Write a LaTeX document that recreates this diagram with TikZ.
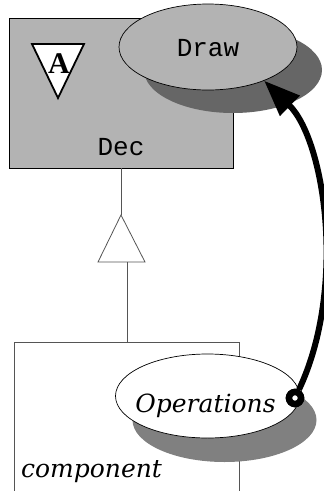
\documentclass[tikz,border=0pt]{standalone}
\usepackage{fontspec}
\setmainfont{Liberation Serif}
\setmonofont{Liberation Mono}
\newfontfamily\labelserif{DejaVu Serif}
\usetikzlibrary{arrows.meta,shapes.geometric,shadows}
\definecolor{boxgray}{HTML}{B3B3B3}
\definecolor{shadowdark}{HTML}{666666}
\definecolor{shadowmid}{HTML}{808080}
\definecolor{linegray}{HTML}{555555}
\tikzset{
  classbox/.style={draw=black, line width=0.8pt, fill=boxgray, anchor=north west, inner sep=0pt},
  openbox/.style={draw=linegray, line width=0.8pt, anchor=north west, inner sep=0pt},
  opellipse/.style={ellipse, draw=black, line width=0.7pt, inner sep=0pt},
  monotext/.style={font=\ttfamily\fontsize{26}{26}\selectfont, inner sep=0pt, anchor=base},
  ittext/.style={font=\labelserif\itshape\fontsize{25}{25}\selectfont, inner sep=0pt, anchor=base},
  inherit/.style={draw=linegray, line width=0.8pt},
  bigarrow/.style={line width=6pt, -{Triangle[length=36pt, width=27pt]}},
  portcircle/.style={circle, draw=black, line width=6.5pt, fill=white, minimum size=12pt, inner sep=0pt}
}
\begin{document}
\begin{tikzpicture}[x=1pt,y=-1pt]
\useasboundingbox (0,0) rectangle (324,491);
% Dec class box
\node[classbox, minimum width=224pt, minimum height=150pt] (dec) at (9,18) {};
\node[monotext] (declabel) at (121,155) {Dec};
% abstract marker
\coordinate (atl) at (32,44);
\coordinate (atr) at (84,44);
\coordinate (abot) at (58,98);
\draw[line width=1.8pt, fill=white, line join=miter] (atl) -- (atr) -- (abot) -- cycle;
\node[font=\bfseries\fontsize{30}{30}\selectfont, inner sep=0pt] (amark) at (59,64) {A};
% Draw operation
\node[opellipse, fill=boxgray, minimum width=178pt, minimum height=86pt,
      drop shadow={shadow xshift=25pt, shadow yshift=-23pt, fill=shadowdark, opacity=1}] (drawop) at (208,47) {};
\node[monotext] (drawlabel) at (208,56) {Draw};
% inheritance
\coordinate (decout) at (121,168);
\coordinate (tapex) at (121,215);
\coordinate (tbl) at (98,262);
\coordinate (tbr) at (145,262);
\coordinate (tbase) at (127,262);
\draw[inherit] (decout) -- (tapex);
\draw[inherit, fill=white] (tapex) -- (tbl) -- (tbr) -- cycle;
% component box
\begin{scope}
\clip (0,0) rectangle (324,491);
\node[openbox, minimum width=225pt, minimum height=170pt] (comp) at (14,342) {};
\end{scope}
\draw[inherit] (tbase) -- (comp.north -| tbase);
\node[ittext, anchor=base west] (complabel) at (21,477) {component};
% Operations
\node[opellipse, fill=white, minimum width=184pt, minimum height=84pt,
      drop shadow={shadow xshift=17pt, shadow yshift=-24pt, fill=shadowmid, opacity=1}] (ops) at (207.5,396) {};
\node[ittext] (opslabel) at (205.5,412) {Operations};
% port and arrow
\node[portcircle] (port) at (295,398) {};
\draw[bigarrow] (port) .. controls (347,288) and (325,140) .. (drawop.-31.6);
\node[portcircle] (port2) at (295,398) {};
\end{tikzpicture}
\end{document}
